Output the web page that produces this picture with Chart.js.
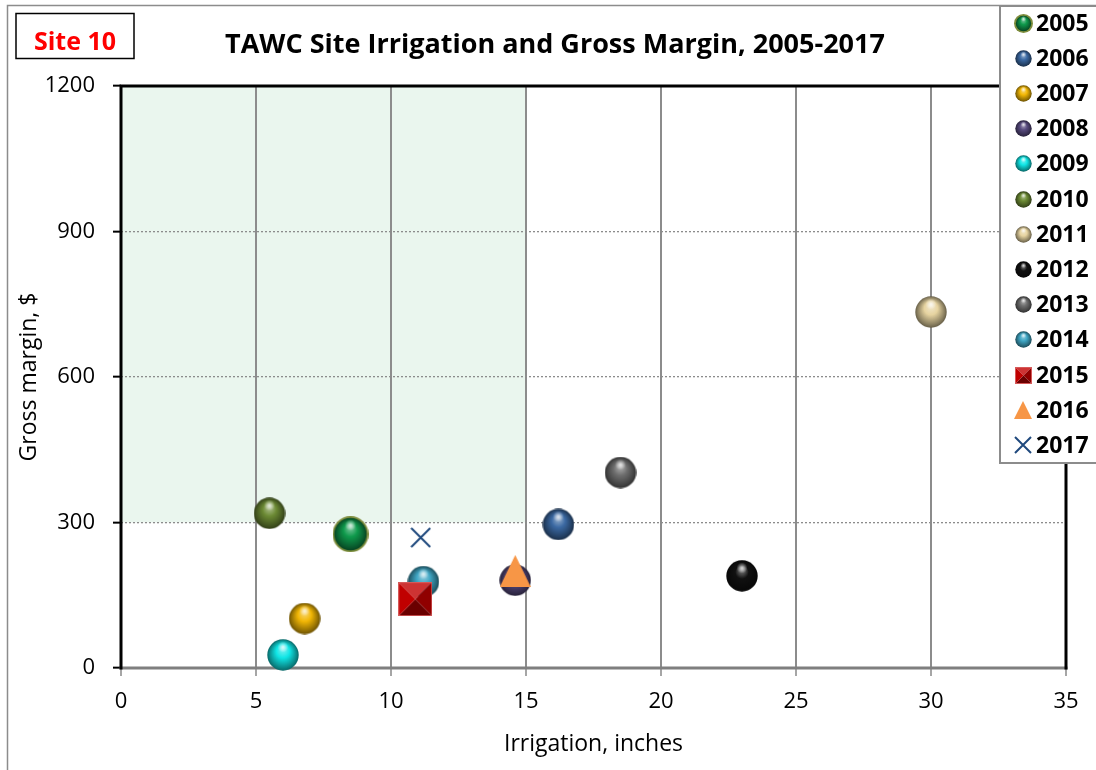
<!DOCTYPE html>
<html>
<head>
<meta charset="utf-8">
<title>TAWC Site Irrigation and Gross Margin</title>
<script src="https://cdn.jsdelivr.net/npm/chart.js@4.4.1/dist/chart.umd.min.js"></script>
<style>
  html, body { margin: 0; padding: 0; background: #fff; }
  canvas { display: block; }
</style>
</head>
<body>
<canvas id="margin_chart" width="1096" height="770"></canvas>
<script>
const years = ["2005", "2006", "2007", "2008", "2009", "2010", "2011", "2012", "2013", "2014", "2015", "2016", "2017"];
const irrigation = [8.5, 16.2, 6.8, 14.6, 6.0, 5.5, 30.0, 23.0, 18.5, 11.2, 10.9, 14.6, 11.1];
const grossMargin = [276, 296, 102, 181, 27, 319, 734, 190, 403, 178, 142, 200, 269];

// target zone (shaded): irrigation below 15 in, margin above $300
const zoneIrrigation = [0, 15];
const zoneMargin = [300, 1200];

const xTicks = [0, 5, 10, 15, 20, 25, 30, 35];
const yTicks = [0, 300, 600, 900, 1200];

const markerColors = ["#0f9a4c", "#3b69a3", "#f2b705", "#574a7e", "#10e6e6", "#6c8a34",
  "#e6d3a0", "#111111", "#6e6e6e", "#3fa6c4", "#c00000", "#f79646", "#1f497d"];
const markerKinds = ["sphere", "sphere", "sphere", "sphere", "sphere", "sphere",
  "sphere", "sphere", "sphere", "sphere", "pyramid", "triangle", "cross"];

const FONT = "'Open Sans', sans-serif";

// --- little colour helpers
function hexToRgb(h) {
  h = h.replace("#", "");
  return [parseInt(h.slice(0, 2), 16), parseInt(h.slice(2, 4), 16), parseInt(h.slice(4, 6), 16)];
}
function mix(hex, other, t) {
  const a = hexToRgb(hex), b = hexToRgb(other);
  return "rgb(" + a.map((v, i) => Math.round(v + (b[i] - v) * t)).join(",") + ")";
}

// --- marker images (Excel-ish 3d look)
function sphere(color, d, rim) {
  const c = document.createElement("canvas");
  c.width = c.height = d;
  const g = c.getContext("2d");
  const r = d / 2;
  if (rim) {
    g.fillStyle = rim;
    g.beginPath(); g.arc(r, r, r, 0, Math.PI * 2); g.fill();
  }
  const rr = rim ? r - 1.8 : r - 0.3;
  const grad = g.createRadialGradient(r, r * 0.6, rr * 0.05, r, r, rr);
  grad.addColorStop(0, mix(color, "#ffffff", 0.45));
  grad.addColorStop(0.4, color);
  grad.addColorStop(0.85, mix(color, "#000000", 0.4));
  grad.addColorStop(1, mix(color, "#000000", 0.55));
  g.fillStyle = grad;
  g.beginPath(); g.arc(r, r, rr, 0, Math.PI * 2); g.fill();
  const hl = g.createRadialGradient(r, r * 0.5, 0, r, r * 0.5, rr * 0.35);
  hl.addColorStop(0, "rgba(255,255,255,0.75)");
  hl.addColorStop(1, "rgba(255,255,255,0)");
  g.fillStyle = hl;
  g.beginPath(); g.arc(r, r * 0.5, rr * 0.35, 0, Math.PI * 2); g.fill();
  return c;
}
function pyramid(color, d) {
  const c = document.createElement("canvas");
  c.width = c.height = d;
  const g = c.getContext("2d");
  const m = d / 2;
  const faces = [
    [[0, 0], [d, 0], mix(color, "#ffffff", 0.2)],
    [[d, 0], [d, d], mix(color, "#000000", 0.25)],
    [[d, d], [0, d], mix(color, "#000000", 0.45)],
    [[0, d], [0, 0], color],
  ];
  faces.forEach(([p1, p2, col]) => {
    g.fillStyle = col;
    g.beginPath(); g.moveTo(p1[0], p1[1]); g.lineTo(p2[0], p2[1]); g.lineTo(m, m); g.closePath(); g.fill();
  });
  g.strokeStyle = mix(color, "#ffffff", 0.35);
  g.lineWidth = 1;
  g.strokeRect(0.5, 0.5, d - 1, d - 1);
  return c;
}
function triangle(color, w, h) {
  const c = document.createElement("canvas");
  c.width = w; c.height = h;
  const g = c.getContext("2d");
  g.fillStyle = color;
  g.beginPath(); g.moveTo(w / 2, 0); g.lineTo(w, h); g.lineTo(0, h); g.closePath(); g.fill();
  return c;
}
function cross(color, d, lw) {
  const c = document.createElement("canvas");
  c.width = c.height = d;
  const g = c.getContext("2d");
  g.strokeStyle = color; g.lineWidth = lw;
  g.beginPath();
  g.moveTo(1, 1); g.lineTo(d - 1, d - 1);
  g.moveTo(d - 1, 1); g.lineTo(1, d - 1);
  g.stroke();
  return c;
}
function marker(i, big) {
  const kind = markerKinds[i], col = markerColors[i];
  if (kind === "pyramid") return pyramid(col, big ? 34 : 17);
  if (kind === "triangle") return big ? triangle(col, 31, 32) : triangle(col, 18, 18);
  if (kind === "cross") return big ? cross(col, 21, 2) : cross(col, 18, 2);
  const rim = i === 0 ? "#7e8d3c" : null;
  return sphere(col, big ? (i === 0 ? 36 : 32) : (i === 0 ? 19 : 17), rim);
}

const datasets = years.map((yr, i) => ({
  label: yr,
  data: [{ x: irrigation[i], y: grossMargin[i] }],
  pointStyle: marker(i, true),
  radius: 16,
  hoverRadius: 16,
  clip: false,
  order: years.length - i,
}));

const legendIcons = years.map((yr, i) => marker(i, false));

const decorations = {
  id: "decorations",
  beforeDraw(chart) {
    const { ctx, scales: { x, y } } = chart;
    const x0 = x.getPixelForValue(zoneIrrigation[0]), x1 = x.getPixelForValue(zoneIrrigation[1]);
    const y0 = y.getPixelForValue(zoneMargin[1]), y1 = y.getPixelForValue(zoneMargin[0]);
    ctx.save();
    ctx.fillStyle = "#eaf6ee";
    ctx.fillRect(x0, y0, x1 - x0, y1 - y0);
    ctx.restore();
  },
  beforeDatasetsDraw(chart) {
    const { ctx, chartArea: a } = chart;
    ctx.save();
    ctx.lineCap = "square";
    ctx.strokeStyle = "#7f7f7f";
    ctx.lineWidth = 3;
    ctx.beginPath(); ctx.moveTo(a.left, a.bottom); ctx.lineTo(a.right, a.bottom); ctx.stroke();
    ctx.strokeStyle = "#000";
    ctx.beginPath();
    ctx.moveTo(a.left, a.bottom); ctx.lineTo(a.left, a.top);
    ctx.lineTo(a.right, a.top); ctx.lineTo(a.right, a.bottom);
    ctx.stroke();
    ctx.restore();
  },
  afterDraw(chart) {
    const { ctx } = chart;
    ctx.save();
    // outer chart border
    ctx.strokeStyle = "#8c8c8c";
    ctx.lineWidth = 1.5;
    ctx.strokeRect(7.5, 5.5, 1200, 1000);

    // site tag
    ctx.strokeStyle = "#000";
    ctx.lineWidth = 1.5;
    ctx.strokeRect(16, 13.5, 118, 45);
    ctx.fillStyle = "#ff0000";
    ctx.font = "bold 25px " + FONT;
    ctx.textAlign = "center";
    ctx.textBaseline = "alphabetic";
    ctx.fillText("Site 10", 75, 50);

    // title
    ctx.fillStyle = "#000";
    ctx.font = "bold 27px " + FONT;
    ctx.fillText("TAWC Site Irrigation and Gross Margin, 2005-2017", 555, 53);

    // legend
    ctx.fillStyle = "#fff";
    ctx.fillRect(1000, 6, 110, 457);
    ctx.strokeStyle = "#8c8c8c";
    ctx.lineWidth = 2;
    ctx.strokeRect(1000, 6, 110, 457);
    ctx.font = "bold 23px " + FONT;
    ctx.textAlign = "left";
    ctx.textBaseline = "middle";
    ctx.fillStyle = "#000";
    years.forEach((yr, i) => {
      const cy = 23 + i * 35.2;
      const icon = legendIcons[i];
      ctx.drawImage(icon, Math.round(1023 - icon.width / 2), Math.round(cy - icon.height / 2));
      ctx.fillText(yr, 1036, cy + 1);
    });
    ctx.restore();
  },
};

const chart = new Chart(document.getElementById("margin_chart"), {
  type: "scatter",
  data: { datasets: datasets },
  plugins: [decorations],
  options: {
    responsive: false,
    animation: false,
    layout: { padding: { top: 86, right: 30, left: 0, bottom: 0 } },
    plugins: {
      legend: { display: false },
      title: { display: false },
      tooltip: { enabled: false },
    },
    scales: {
      x: {
        type: "linear",
        min: xTicks[0],
        max: xTicks[xTicks.length - 1],
        afterFit: (s) => { s.height = 102; },
        afterBuildTicks: (s) => { s.ticks = xTicks.map((v) => ({ value: v })); },
        border: { display: false },
        grid: { color: "#8c8c8c", lineWidth: 2, tickColor: "#a6a6a6", tickLength: 8, tickWidth: 2 },
        ticks: { color: "#000", padding: 13, font: { family: FONT, size: 22 }, callback: (v) => String(v) },
        title: {
          display: true,
          text: "Irrigation, inches",
          color: "#000",
          padding: { top: 0, bottom: 12 },
          font: { family: FONT, size: 23 },
        },
      },
      y: {
        type: "linear",
        min: yTicks[0],
        max: yTicks[yTicks.length - 1],
        afterFit: (s) => { s.width = 121; },
        afterBuildTicks: (s) => { s.ticks = yTicks.map((v) => ({ value: v })); },
        border: { display: false, dash: [2, 2] },
        grid: { color: "#8c8c8c", lineWidth: 1.3, tickColor: "#000", tickLength: 8, tickWidth: 2, tickBorderDash: [] },
        ticks: { color: "#000", padding: 18, font: { family: FONT, size: 22 }, callback: (v) => String(v) },
        title: {
          display: true,
          text: "Gross margin, $",
          color: "#000",
          padding: { top: 16, bottom: 0 },
          font: { family: FONT, size: 23 },
        },
      },
    },
  },
});
</script>
</body>
</html>
